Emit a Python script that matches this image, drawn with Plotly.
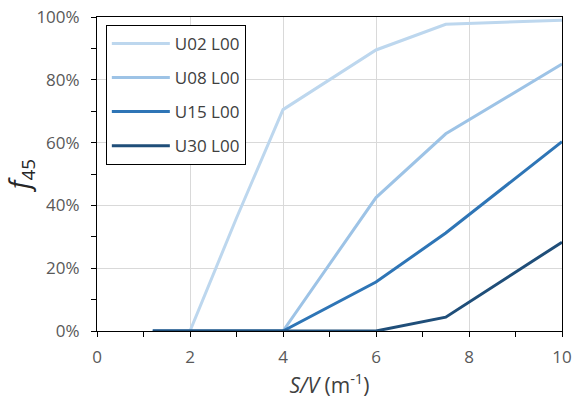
import plotly.graph_objects as go

x_vals = [1.2, 2, 3, 4, 6, 7.5, 10]
series_names = ["U02 L00", "U08 L00", "U15 L00", "U30 L00"]
u02 = [0, 0, 0.36, 0.705, 0.895, 0.977, 0.99]
u08 = [0, 0, 0, 0, 0.425, 0.628, 0.85]
u15 = [0, 0, 0, 0, 0.156, 0.312, 0.603]
u30 = [0, 0, 0, 0, 0, 0.044, 0.283]
colors = ["#bdd7ee", "#9dc3e6", "#2e75b6", "#1f4e79"]

font_family = "Open Sans, Liberation Sans, sans-serif"
fig = go.Figure()
for i, (name, ys) in enumerate(zip(series_names, [u02, u08, u15, u30])):
    fig.add_trace(go.Scatter(x=x_vals, y=ys, mode="lines", name=name,
                             line=dict(color=colors[i], width=3),
                             legendgroup=name))

fig.update_layout(
    width=576, height=407,
    margin=dict(l=97, r=14, t=17, b=76, autoexpand=False),
    plot_bgcolor="white", paper_bgcolor="white",
    font=dict(family=font_family, size=17, color="#595959"),
    showlegend=True,
    legend=dict(x=0.019, y=0.975, xanchor="left", yanchor="top",
                bordercolor="#000000", borderwidth=1, bgcolor="white",
                font=dict(size=17, color="#404040"),
                traceorder="grouped", tracegroupgap=9,
                itemwidth=58),
    xaxis=dict(range=[0, 10], tickvals=[0, 2, 4, 6, 8, 10],
               automargin=False, ticklabelstandoff=6,
               showgrid=True, gridcolor="#d9d9d9", gridwidth=1,
               showline=True, linecolor="black", linewidth=1, mirror=True,
               ticks="outside", ticklen=5, tickcolor="black",
               minor=dict(dtick=1, ticks="outside", ticklen=5, tickcolor="black", showgrid=False),
               zeroline=False,
               title=dict(text="<i>S/V</i> (m<sup>-1</sup>)", standoff=10,
                          font=dict(size=21, color="#404040"))),
    yaxis=dict(range=[0, 1], tickvals=[0, 0.2, 0.4, 0.6, 0.8, 1.0],
               tickformat=".0%",
               automargin=False, ticklabelstandoff=8,
               showgrid=True, gridcolor="#d9d9d9", gridwidth=1,
               showline=True, linecolor="black", linewidth=1, mirror=True,
               ticks="outside", ticklen=5, tickcolor="black",
               minor=dict(dtick=0.1, ticks="outside", ticklen=5, tickcolor="black", showgrid=False),
               zeroline=False,
               title=dict(text="<i>f</i><sub>45</sub>", standoff=6,
                          font=dict(size=27, color="#262626"))),
)

fig.write_html("out.html")
